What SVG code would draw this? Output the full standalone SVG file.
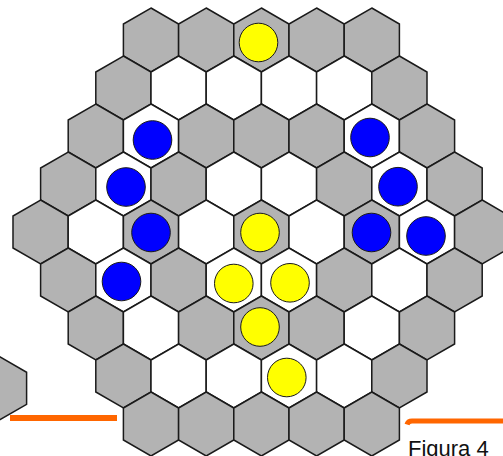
<svg xmlns="http://www.w3.org/2000/svg" xmlns:xlink="http://www.w3.org/1999/xlink" width="503" height="456" viewBox="0 0 503 456">
<style>
.g{fill:#b3b3b3}
.w{fill:#ffffff}
.hx{stroke:#1a1a1a;stroke-width:1.5;stroke-linejoin:miter}
.b{fill:#0000ff;stroke:#1a1a1a;stroke-width:1}
.y{fill:#ffff00;stroke:#1a1a1a;stroke-width:1}
.or{stroke:#ff6600;stroke-width:6;fill:none}
.t{font-family:"Liberation Sans",Arial,sans-serif;font-size:22px;fill:#111}
</style>
<defs>
<polygon id="h" class="hx" points="0,-32 27.6,-16 27.6,16 0,32 -27.6,16 -27.6,-16"/>
</defs>
<rect width="503" height="456" fill="#fff"/>
<g id="stray"><use href="#h" x="-1" y="388.3" class="g"/></g>
<!-- row 0 -->
<g id="r0c0"><use href="#h" x="151" y="40" class="g"/></g>
<g id="r0c1"><use href="#h" x="206.2" y="40" class="g"/></g>
<g id="r0c2"><use href="#h" x="261.4" y="40" class="g"/><circle class="y" cx="258.5" cy="42.5" r="19.3"/></g>
<g id="r0c3"><use href="#h" x="316.6" y="40" class="g"/></g>
<g id="r0c4"><use href="#h" x="371.8" y="40" class="g"/></g>
<!-- row 1 -->
<g id="r1c0"><use href="#h" x="123.4" y="88" class="g"/></g>
<g id="r1c1"><use href="#h" x="178.6" y="88" class="w"/></g>
<g id="r1c2"><use href="#h" x="233.8" y="88" class="w"/></g>
<g id="r1c3"><use href="#h" x="289" y="88" class="w"/></g>
<g id="r1c4"><use href="#h" x="344.2" y="88" class="w"/></g>
<g id="r1c5"><use href="#h" x="399.4" y="88" class="g"/></g>
<!-- row 2 -->
<g id="r2c0"><use href="#h" x="95.8" y="136" class="g"/></g>
<g id="r2c1"><use href="#h" x="151" y="136" class="w"/><circle class="b" cx="152.5" cy="140" r="19.3"/></g>
<g id="r2c2"><use href="#h" x="206.2" y="136" class="g"/></g>
<g id="r2c3"><use href="#h" x="261.4" y="136" class="g"/></g>
<g id="r2c4"><use href="#h" x="316.6" y="136" class="g"/></g>
<g id="r2c5"><use href="#h" x="371.8" y="136" class="w"/><circle class="b" cx="370" cy="137.5" r="19.3"/></g>
<g id="r2c6"><use href="#h" x="427" y="136" class="g"/></g>
<!-- row 3 -->
<g id="r3c0"><use href="#h" x="68.2" y="184" class="g"/></g>
<g id="r3c1"><use href="#h" x="123.4" y="184" class="w"/><circle class="b" cx="126" cy="187" r="19.3"/></g>
<g id="r3c2"><use href="#h" x="178.6" y="184" class="g"/></g>
<g id="r3c3"><use href="#h" x="233.8" y="184" class="w"/></g>
<g id="r3c4"><use href="#h" x="289" y="184" class="w"/></g>
<g id="r3c5"><use href="#h" x="344.2" y="184" class="g"/></g>
<g id="r3c6"><use href="#h" x="399.4" y="184" class="w"/><circle class="b" cx="398" cy="186.7" r="19.3"/></g>
<g id="r3c7"><use href="#h" x="454.6" y="184" class="g"/></g>
<!-- row 4 -->
<g id="r4c0"><use href="#h" x="40.6" y="232" class="g"/></g>
<g id="r4c1"><use href="#h" x="95.8" y="232" class="w"/></g>
<g id="r4c2"><use href="#h" x="151" y="232" class="g"/><circle class="b" cx="151" cy="232.5" r="19.3"/></g>
<g id="r4c3"><use href="#h" x="206.2" y="232" class="w"/></g>
<g id="r4c4"><use href="#h" x="261.4" y="232" class="g"/><circle class="y" cx="260" cy="232.5" r="19.3"/></g>
<g id="r4c5"><use href="#h" x="316.6" y="232" class="w"/></g>
<g id="r4c6"><use href="#h" x="371.8" y="232" class="g"/><circle class="b" cx="371.5" cy="232.5" r="19.3"/></g>
<g id="r4c7"><use href="#h" x="427" y="232" class="w"/><circle class="b" cx="426" cy="236" r="19.3"/></g>
<g id="r4c8"><use href="#h" x="482.2" y="232" class="g"/></g>
<!-- row 5 -->
<g id="r5c0"><use href="#h" x="68.2" y="280" class="g"/></g>
<g id="r5c1"><use href="#h" x="123.4" y="280" class="w"/><circle class="b" cx="121.5" cy="281.5" r="19.3"/></g>
<g id="r5c2"><use href="#h" x="178.6" y="280" class="g"/></g>
<g id="r5c3"><use href="#h" x="233.8" y="280" class="w"/><circle class="y" cx="233.8" cy="283.5" r="19.3"/></g>
<g id="r5c4"><use href="#h" x="289" y="280" class="w"/><circle class="y" cx="290" cy="282.8" r="19.3"/></g>
<g id="r5c5"><use href="#h" x="344.2" y="280" class="g"/></g>
<g id="r5c6"><use href="#h" x="399.4" y="280" class="w"/></g>
<g id="r5c7"><use href="#h" x="454.6" y="280" class="g"/></g>
<!-- row 6 -->
<g id="r6c0"><use href="#h" x="95.8" y="328" class="g"/></g>
<g id="r6c1"><use href="#h" x="151" y="328" class="w"/></g>
<g id="r6c2"><use href="#h" x="206.2" y="328" class="g"/></g>
<g id="r6c3"><use href="#h" x="261.4" y="328" class="g"/><circle class="y" cx="260" cy="327" r="19.3"/></g>
<g id="r6c4"><use href="#h" x="316.6" y="328" class="g"/></g>
<g id="r6c5"><use href="#h" x="371.8" y="328" class="w"/></g>
<g id="r6c6"><use href="#h" x="427" y="328" class="g"/></g>
<!-- row 7 -->
<g id="r7c0"><use href="#h" x="123.4" y="376" class="g"/></g>
<g id="r7c1"><use href="#h" x="178.6" y="376" class="w"/></g>
<g id="r7c2"><use href="#h" x="233.8" y="376" class="w"/></g>
<g id="r7c3"><use href="#h" x="289" y="376" class="w"/><circle class="y" cx="286.8" cy="377.5" r="19.3"/></g>
<g id="r7c4"><use href="#h" x="344.2" y="376" class="w"/></g>
<g id="r7c5"><use href="#h" x="399.4" y="376" class="g"/></g>
<!-- row 8 -->
<g id="r8c0"><use href="#h" x="151" y="424" class="g"/></g>
<g id="r8c1"><use href="#h" x="206.2" y="424" class="g"/></g>
<g id="r8c2"><use href="#h" x="261.4" y="424" class="g"/></g>
<g id="r8c3"><use href="#h" x="316.6" y="424" class="g"/></g>
<g id="r8c4"><use href="#h" x="371.8" y="424" class="g"/></g>
<g id="connectors">
<line class="or" x1="10" y1="418" x2="117" y2="418"/>
<path class="or" style="stroke-width:5" d="M407,424.5 Q408,421 412,421 L503,421"/>
</g>
<text class="t" x="408" y="455.5">Figura 4</text>
</svg>
